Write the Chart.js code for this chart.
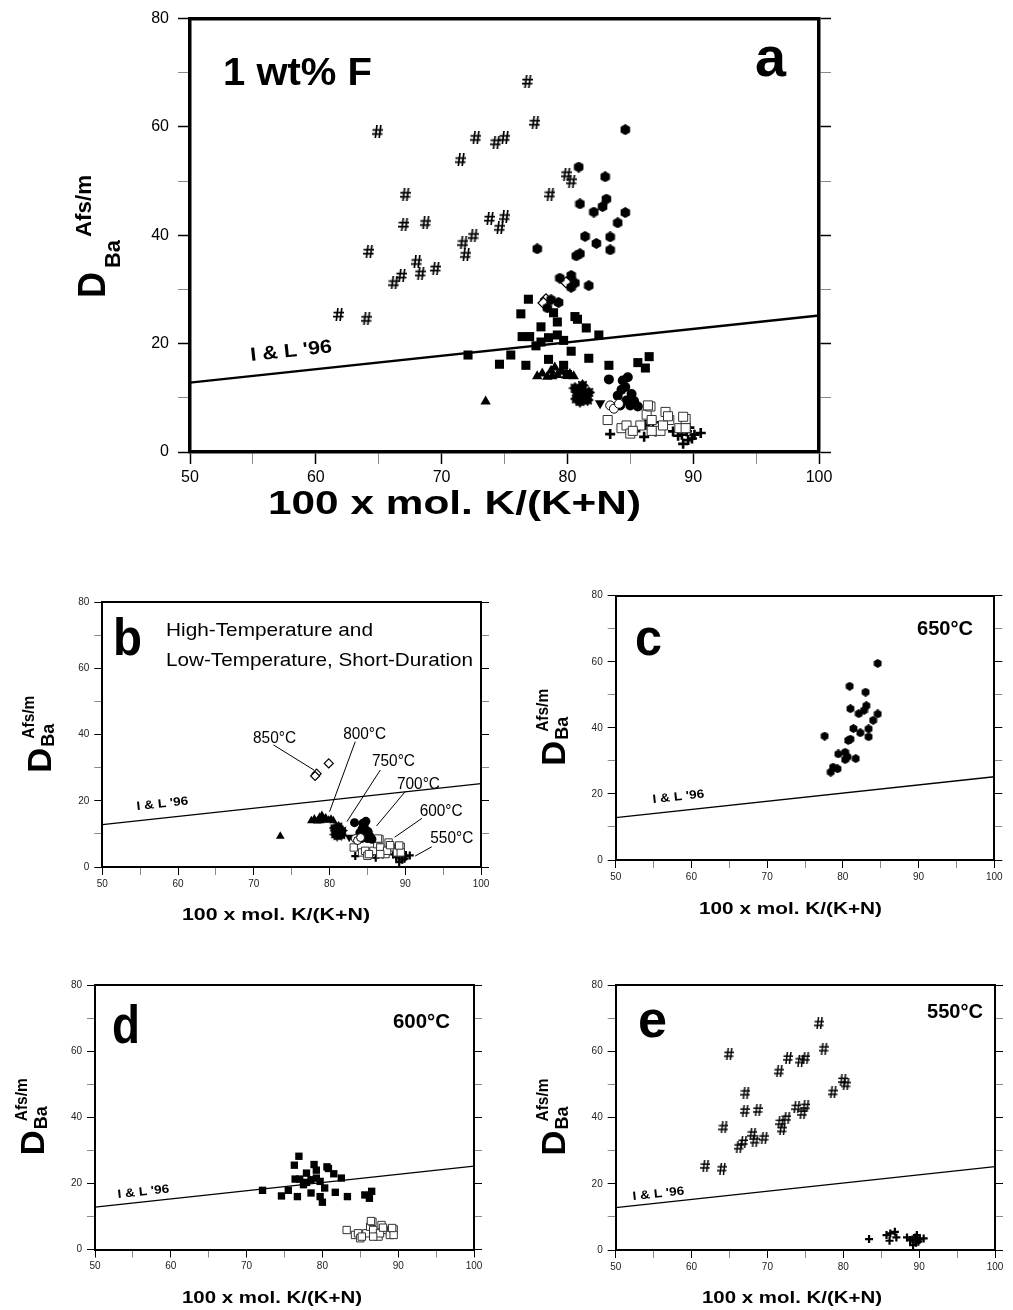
<!DOCTYPE html>
<html>
<head>
<meta charset="utf-8">
<script src="https://cdn.jsdelivr.net/npm/chart.js@4/dist/chart.umd.min.js"></script>
<style>
  html, body { margin: 0; padding: 0; background: #fff; }
  #wrap { position: relative; width: 1013px; height: 1310px; }
  #wrap canvas { position: absolute; left: 0; top: 0; }
</style>
</head>
<body>
<div id="wrap">
  <canvas id="ca" width="1013" height="1310"></canvas>
  <canvas id="cb" width="1013" height="1310"></canvas>
  <canvas id="cc" width="1013" height="1310"></canvas>
  <canvas id="cd" width="1013" height="1310"></canvas>
  <canvas id="ce" width="1013" height="1310"></canvas>
</div>
<script>
const W = 1013, H = 1310;
const FONT = '"Liberation Sans", Arial, Helvetica, sans-serif';

// axis ticks
const xLabels = [50, 60, 70, 80, 90, 100];
const yLabels = [0, 20, 40, 60, 80];

// [100 x mol. K/(K+N), D Ba Afs/m]
const hash550 = [[76.8,68.4],[77.4,60.8],[64.9,59.1],[72.7,58.0],[74.3,57.2],[75.0,58.0],[71.5,53.9],
  [67.1,47.5],[67.0,42.0],[68.7,42.3],[73.8,43.1],[75.0,43.4],[74.6,41.4],[72.5,39.9],[71.7,38.6],
  [71.9,36.4],[64.2,37.0],[68.0,35.1],[68.3,33.0],[69.5,33.9],[66.8,32.6],[66.2,31.2],[61.8,25.4],
  [64.0,24.6],[79.9,51.3],[80.3,50.0],[78.6,47.6]];
const plus550 = [[83.4,3.3],[85.7,4.5],[86.1,2.8],[86.2,5.0],[86.8,5.5],[87.0,3.8],[88.4,3.8],[88.8,3.0],
  [89.2,1.5],[89.5,3.8],[89.7,4.5],[89.9,2.5],[90.1,3.2],[90.6,3.5],[89.1,3.2],[89.6,2.2]];
const hex650 = [[84.6,59.5],[80.9,52.6],[83.0,50.8],[83.1,46.7],[82.8,45.3],[82.1,44.3],[81.0,45.8],
  [84.6,44.2],[84.0,42.3],[81.4,39.8],[83.4,39.7],[82.3,38.5],[83.4,37.3],[77.6,37.5],[80.7,36.2],
  [81.0,36.6],[79.4,32.1],[80.3,32.6],[80.6,31.2],[80.3,30.4],[81.7,30.7],[79.3,27.6],[78.7,28.1],[78.4,26.6]];
const sq600long = [[72.1,17.9],[74.6,16.2],[75.5,17.9],[76.7,16.0],[76.3,25.5],[76.9,28.2],[76.4,21.3],
  [77.0,21.3],[77.5,19.6],[77.9,23.1],[78.5,21.1],[78.5,17.1],[78.9,25.7],[79.2,24.0],[79.2,21.6],
  [79.7,20.6],[79.7,16.0],[80.0,14.3],[80.3,18.6],[80.6,25.0],[80.8,24.5],[81.5,22.9],[81.7,17.3],
  [82.5,21.6],[83.3,16.0],[85.6,16.5],[86.2,15.5],[86.5,17.6],[77.9,20.3]];
const sq600short = [[83.2,5.9],[84.3,4.4],[84.7,4.9],[85.0,3.4],[85.8,4.9],[86.3,6.9],[86.6,8.4],[86.7,5.9],
  [87.4,3.9],[87.8,7.4],[88.1,5.9],[88.9,4.4],[89.4,6.1],[89.4,4.4],[87.6,4.9],[85.2,3.9],[86.7,3.9],
  [86.4,8.6],[89.2,6.5],[88.0,6.6]];
const dia850 = [[78.3,28.2],[78.1,27.5],[79.9,31.3]];
const tri800 = [[73.5,9.3],[77.6,14.0],[78.0,14.5],[78.4,13.9],[78.7,15.0],[79.0,15.6],[79.2,14.2],
  [79.5,14.8],[79.9,14.1],[80.2,14.4],[80.5,14.0],[78.8,14.0]];
const star750 = [[80.6,11.8],[80.9,10.5],[81.2,12.3],[81.4,9.8],[81.0,9.3],[81.7,11.0],[80.8,11.0],
  [81.3,10.8],[81.6,9.6],[80.7,9.8]];
const triDown = [[82.6,9.0]];
const circ700 = [[83.3,13.4],[84.4,13.2],[84.6,12.0],[85.1,10.7],[84.0,10.4],[84.2,8.6],[85.0,8.6],
  [85.6,8.4],[84.7,9.5],[84.3,11.5],[85.3,9.4],[84.8,13.8]];
const circOpen = [[83.4,8.6],[83.7,8.0],[84.1,8.9]];
const ilLine = [[50,12.8],[100,25.2]];
const tempLabels = ['850\u00B0C', '800\u00B0C', '750\u00B0C', '700\u00B0C', '600\u00B0C', '550\u00B0C'];

// marker images
function hashImg(w, h, lw) {
  const c = document.createElement('canvas'); c.width = w; c.height = h;
  const g = c.getContext('2d');
  g.strokeStyle = '#000'; g.lineWidth = lw; g.beginPath();
  g.moveTo(w * 0.45, 0); g.lineTo(w * 0.3, h);
  g.moveTo(w * 0.8, 0); g.lineTo(w * 0.65, h);
  g.moveTo(0.5, h * 0.35); g.lineTo(w, h * 0.35);
  g.moveTo(0, h * 0.66); g.lineTo(w - 0.5, h * 0.66);
  g.stroke();
  return c;
}
function hexImg(d) {
  const c = document.createElement('canvas'); c.width = d; c.height = d;
  const g = c.getContext('2d');
  g.fillStyle = '#000'; g.beginPath();
  for (let i = 0; i < 6; i++) {
    const a = Math.PI / 6 + i * Math.PI / 3;
    g.lineTo(d / 2 + d / 2 * Math.cos(a), d / 2 + d / 2 * Math.sin(a));
  }
  g.closePath(); g.fill();
  return c;
}
function starImg(d) {
  const c = document.createElement('canvas'); c.width = d; c.height = d;
  const g = c.getContext('2d');
  g.fillStyle = '#000'; g.beginPath();
  for (let i = 0; i < 16; i++) {
    const a = i * Math.PI / 8;
    const r = i % 2 ? d * 0.33 : d / 2;
    g.lineTo(d / 2 + r * Math.cos(a), d / 2 + r * Math.sin(a));
  }
  g.closePath(); g.fill();
  return c;
}

const pts = arr => arr.map(([x, y]) => ({ x, y }));

function series(big) {
  const base = { clip: false, borderColor: '#000', backgroundColor: '#000', borderWidth: 0 };
  const s = (arr, o) => Object.assign({ data: pts(arr) }, base, o);
  return {
    hash: s(hash550, { pointStyle: big ? hashImg(11, 13, 1.7) : hashImg(10, 12, 1.5) }),
    plus: s(plus550, { pointStyle: 'cross', pointRadius: big ? 5 : 4, borderWidth: big ? 2.6 : 2.2 }),
    hex: s(hex650, { pointStyle: hexImg(big ? 11 : 9) }),
    sqL: s(sq600long, { pointStyle: 'rect', pointRadius: big ? 6.4 : 5.2 }),
    sqS: s(sq600short, { pointStyle: 'rect', pointRadius: big ? 6.4 : 5.2, backgroundColor: '#fff', borderColor: '#333', borderWidth: 1 }),
    dia: s(dia850, { pointStyle: 'rectRot', pointRadius: big ? 5.5 : 4.5, backgroundColor: '#fff', borderWidth: 1.2 }),
    tri: s(tri800, { pointStyle: 'triangle', pointRadius: big ? 6 : 5 }),
    star: s(star750, { pointStyle: starImg(big ? 13 : 11) }),
    triD: s(triDown, { pointStyle: 'triangle', rotation: 180, pointRadius: big ? 6 : 5 }),
    circ: s(circ700, { pointStyle: 'circle', pointRadius: big ? 5 : 4.5 }),
    circO: s(circOpen, { pointStyle: 'circle', pointRadius: big ? 4.5 : 4, backgroundColor: '#fff', borderWidth: 1 }),
  };
}

function textAt(ctx, s, x, y, font, w, angle) {
  ctx.save();
  ctx.font = font + ' ' + FONT;
  ctx.fillStyle = '#000';
  ctx.textAlign = 'left';
  ctx.textBaseline = 'alphabetic';
  ctx.translate(x, y);
  if (angle) ctx.rotate(angle);
  if (w) ctx.scale(w / ctx.measureText(s).width, 1);
  ctx.fillText(s, 0, 0);
  ctx.restore();
}

function overlay(p) {
  return {
    id: 'overlay',
    afterDraw(chart) {
      const ctx = chart.ctx, xs = chart.scales.x, ys = chart.scales.y;
      p.texts.forEach(t => textAt(ctx, t.s, t.x, t.y, t.f, t.w));
      // y title, rotated
      p.ytitle.forEach(t => textAt(ctx, t.s, t.bx, t.sy, t.f, t.w, -Math.PI / 2));
      // I & L '96 label along the line
      const ang = Math.atan2(ys.getPixelForValue(ilLine[1][1]) - ys.getPixelForValue(ilLine[0][1]),
        xs.getPixelForValue(ilLine[1][0]) - xs.getPixelForValue(ilLine[0][0]));
      textAt(ctx, "I & L '96", p.il.x, p.il.y, p.il.f, p.il.w, ang);
      if (p.temps) {
        ctx.save();
        ctx.strokeStyle = '#000'; ctx.lineWidth = 1;
        p.temps.forEach((t, i) => {
          textAt(ctx, tempLabels[i], xs.getPixelForValue(t.t[0]), ys.getPixelForValue(t.t[1]), '16px', 43);
          ctx.beginPath();
          ctx.moveTo(xs.getPixelForValue(t.a[0]), ys.getPixelForValue(t.a[1]));
          ctx.lineTo(xs.getPixelForValue(t.b[0]), ys.getPixelForValue(t.b[1]));
          ctx.stroke();
        });
        ctx.restore();
      }
    }
  };
}

function scalesFor(p) {
  const major = (c, step) => c.tick && Math.abs(c.tick.value % step) < 1e-6;
  const grid = step => ({
    drawOnChartArea: false, drawTicks: true, tickLength: p.tk,
    tickColor: c => major(c, step) ? '#000' : '#8a8a8a',
    tickWidth: c => major(c, step) ? p.tw : 1
  });
  const font = { family: FONT, size: p.fs };
  const border = { display: true, color: '#000', width: p.bw };
  return {
    x: {
      type: 'linear', position: 'bottom', min: 50, max: 100, border, grid: grid(10),
      ticks: { stepSize: 5, autoSkip: false, maxRotation: 0, padding: p.xpad, font, color: p.tc,
        callback: v => xLabels.includes(v) ? String(v) : '' },
      afterFit: s => { s.height = p.xh; }
    },
    xTop: {
      type: 'linear', position: 'top', min: 50, max: 100, border,
      grid: { drawOnChartArea: false, drawTicks: false }, ticks: { display: false },
      afterFit: s => { s.height = 0; }
    },
    y: {
      type: 'linear', position: 'left', min: 0, max: 80, border, grid: grid(20),
      ticks: { stepSize: 10, autoSkip: false, padding: p.ypad, font, color: p.tc,
        callback: v => yLabels.includes(v) ? String(v) : '' },
      afterFit: s => { s.width = p.yw; }
    },
    yRight: {
      type: 'linear', position: 'right', min: 0, max: 80, border, grid: grid(20),
      ticks: { stepSize: 10, display: false },
      afterFit: s => { s.width = 30; }
    }
  };
}

function draw(p) {
  const lineSet = { data: pts(ilLine), showLine: true, borderColor: '#000', borderWidth: p.lineW,
    pointRadius: 0, fill: false, clip: false };
  new Chart(document.getElementById(p.id), {
    type: 'scatter',
    data: { datasets: [...p.sets, lineSet] },
    options: {
      responsive: false, animation: false, devicePixelRatio: 1,
      layout: { autoPadding: false,
        padding: { left: p.l - p.yw, top: p.t, right: W - p.r - 30, bottom: H - p.b - p.xh } },
      plugins: { legend: { display: false }, tooltip: { enabled: false } },
      events: [],
      scales: scalesFor(p)
    },
    plugins: [overlay(p)]
  });
}

function smallTitle(l, t, b) {
  const c = (t + b) / 2;
  return [
    { s: 'D', f: 'bold 34px', bx: l - 51, sy: c + 38, w: 25 },
    { s: 'Ba', f: 'bold 18px', bx: l - 48, sy: c + 12, w: 23 },
    { s: 'Afs/m', f: 'bold 16px', bx: l - 68, sy: c + 4, w: 43 }
  ];
}
function small(id, l, r, t, b, extra) {
  return Object.assign({ id, l, r, t, b, tk: 8, tw: 1, bw: 2, fs: 10, tc: '#222', ypad: 5, xpad: 3,
    yw: 60, xh: 30, lineW: 1.3, ytitle: smallTitle(l, t, b) }, extra);
}

const big = series(true), sm = series(false);

draw({
  id: 'ca', l: 190, r: 819, t: 15, b: 452, tk: 12, tw: 1.5, bw: 3.5, fs: 16, tc: '#000', ypad: 9, xpad: 4,
  yw: 80, xh: 40, lineW: 2.4,
  sets: [big.hash, big.hex, big.dia, big.circO, big.circ, big.triD, big.star, big.tri, big.sqL, big.sqS, big.plus],
  texts: [
    { s: '1 wt% F', x: 223, y: 85, f: 'bold 39px', w: 149 },
    { s: 'a', x: 755, y: 76, f: 'bold 56px', w: 31 },
    { s: '100 x mol. K/(K+N)', x: 268, y: 514, f: 'bold 34px', w: 373 }
  ],
  il: { x: 251, y: 361, f: 'bold 19px', w: 82 },
  ytitle: [
    { s: 'D', f: 'bold 38px', bx: 105, sy: 298, w: 26 },
    { s: 'Ba', f: 'bold 22px', bx: 120, sy: 268, w: 28 },
    { s: 'Afs/m', f: 'bold 22px', bx: 91, sy: 237, w: 62 }
  ]
});

draw(small('cb', 102.3, 481, 602.3, 867, {
  sets: [sm.dia, sm.circO, sm.circ, sm.triD, sm.star, sm.tri, sm.sqS, sm.plus],
  texts: [
    { s: 'b', x: 113, y: 655, f: 'bold 52px', w: 29 },
    { s: 'High-Temperature and', x: 166, y: 636, f: '19px', w: 207 },
    { s: 'Low-Temperature, Short-Duration', x: 166, y: 666, f: '19px', w: 307 },
    { s: '100 x mol. K/(K+N)', x: 182, y: 920, f: 'bold 17px', w: 188 }
  ],
  il: { x: 137, y: 810, f: 'bold 12px', w: 52 },
  temps: [
    { t: [69.9, 37.4], a: [72.6, 36.9], b: [77.95, 29.3] },
    { t: [81.8, 38.6], a: [83.4, 37.9], b: [80.0, 16.7] },
    { t: [85.6, 30.5], a: [86.7, 29.3], b: [82.3, 13.7] },
    { t: [88.9, 23.5], a: [90.0, 22.8], b: [86.2, 12.4] },
    { t: [91.9, 15.4], a: [92.2, 14.7], b: [88.6, 9.0] },
    { t: [93.3, 7.3], a: [93.5, 6.1], b: [91.3, 3.3] }
  ]
}));

draw(small('cc', 615.7, 994.3, 595.7, 860, {
  sets: [sm.hex],
  texts: [
    { s: 'c', x: 635, y: 655, f: 'bold 52px', w: 27 },
    { s: '650\u00B0C', x: 917, y: 635, f: 'bold 20px', w: 56 },
    { s: '100 x mol. K/(K+N)', x: 699, y: 914, f: 'bold 17px', w: 183 }
  ],
  il: { x: 653, y: 803, f: 'bold 12px', w: 52 }
}));

draw(small('cd', 95, 474, 985, 1249.5, {
  sets: [sm.sqL, sm.sqS],
  texts: [
    { s: 'd', x: 112, y: 1043, f: 'bold 54px', w: 28 },
    { s: '600\u00B0C', x: 393, y: 1028, f: 'bold 20px', w: 57 },
    { s: '100 x mol. K/(K+N)', x: 182, y: 1303, f: 'bold 17px', w: 180 }
  ],
  il: { x: 118, y: 1198, f: 'bold 12px', w: 52 }
}));

draw(small('ce', 615.7, 995, 985, 1250, {
  sets: [sm.hash, sm.plus],
  texts: [
    { s: 'e', x: 638, y: 1037, f: 'bold 52px', w: 29 },
    { s: '550\u00B0C', x: 927, y: 1018, f: 'bold 20px', w: 56 },
    { s: '100 x mol. K/(K+N)', x: 702, y: 1303, f: 'bold 17px', w: 180 }
  ],
  il: { x: 633, y: 1200, f: 'bold 12px', w: 52 }
}));
</script>
</body>
</html>
